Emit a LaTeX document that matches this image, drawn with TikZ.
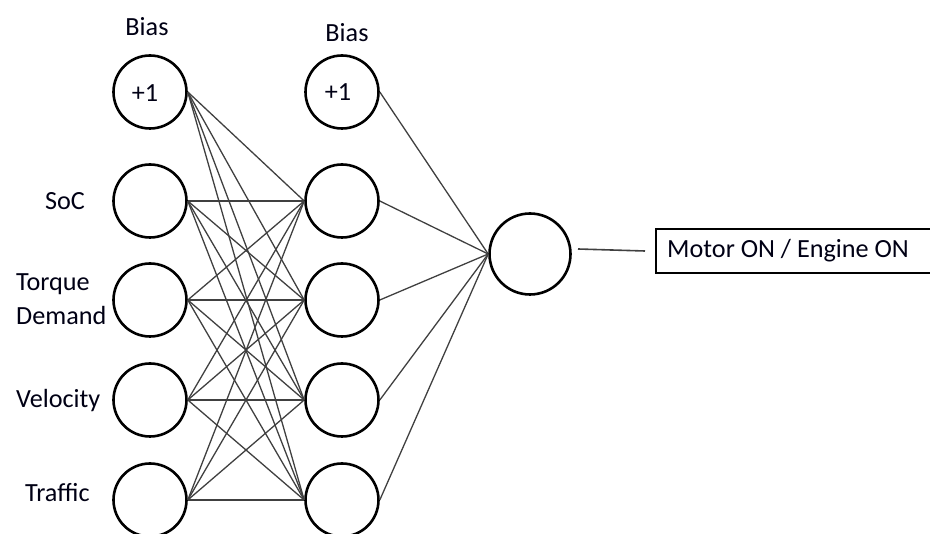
\documentclass[tikz,border=0pt]{standalone}
\usepackage{fontspec}
\setmainfont{Carlito}
\begin{document}
\begin{tikzpicture}[x=1pt,y=-1pt,
  neuron/.style={draw=black,line width=2.6pt,circle,minimum size=73pt,inner sep=0pt},
  outneuron/.style={draw=black,line width=2.6pt,circle,minimum size=81pt,inner sep=0pt},
  lbl/.style={font=\fontsize{26.2}{30}\selectfont,text=black!92!blue,inner sep=0pt},
  conn/.style={draw=black!75,line width=1.3pt},
  outbox/.style={draw=black,line width=1.8pt,minimum height=44pt,minimum width=290pt,anchor=west,inner sep=0pt}]
\clip (0,0) rectangle (930,534);
\useasboundingbox (0,0) rectangle (930,534);
% input layer
\node[neuron] (ib) at (150,92) {};
\node[neuron] (i1) at (150,201) {};
\node[neuron] (i2) at (150,300) {};
\node[neuron] (i3) at (150,400) {};
\node[neuron] (i4) at (150,500) {};
% hidden layer
\node[neuron] (hb) at (342,92) {};
\node[neuron] (h1) at (342,201) {};
\node[neuron] (h2) at (342,300) {};
\node[neuron] (h3) at (342,400) {};
\node[neuron] (h4) at (342,500) {};
% output
\node[outneuron] (o) at (530,254) {};
% labels
\node[lbl] (tb1) at (147,27) {Bias};
\node[lbl] (tb2) at (347,33) {Bias};
\node[lbl] (p1) at (145,93) {+1};
\node[lbl] (p2) at (338,92) {+1};
\node[lbl] (tsoc) at (65,201) {SoC};
\node[lbl,anchor=west] (ttq1) at (16,284) {Torque};
\node[lbl,anchor=west] (ttq2) at (16,316) {Demand};
\node[lbl,anchor=west] (tvel) at (16,401) {Velocity};
\node[lbl,anchor=west] (ttra) at (25,493) {Traffic};
% output box
\node[outbox] (box) at (655,251) {};
\node[lbl,anchor=west] (tout) at (667,251) {Motor ON / Engine ON};
% connections
\foreach \i in {b,1,2,3,4}{
  \foreach \j in {1,2,3,4}{
    \draw[conn] (i\i.east) -- (h\j.west);
  }
}
\foreach \j in {b,1,2,3,4}{
  \draw[conn] (h\j.east) -- (o.west);
}
\coordinate (c1) at (578,249);
\coordinate (c2) at (645,251);
\draw[conn,line width=1.6pt] (c1) -- (c2);
\end{tikzpicture}
\end{document}
